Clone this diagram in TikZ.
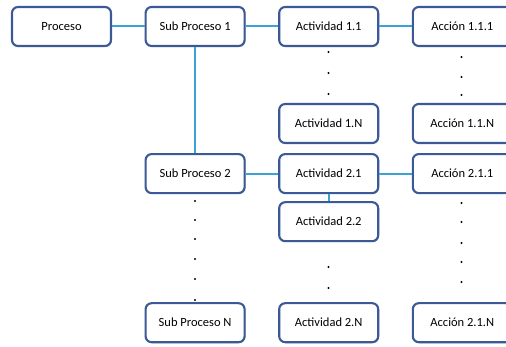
\documentclass[tikz,border=0pt]{standalone}
\usepackage{fontspec}
\setmainfont{Carlito}
\usepackage{tikz}
\usetikzlibrary{positioning,shadows}

\definecolor{boxblue}{HTML}{3A5996}
\definecolor{linkblue}{HTML}{3AA2D4}

\begin{document}
\begin{tikzpicture}[
x=1pt, y=1pt,
font=\fontsize{12.5}{14}\selectfont,
box/.style={
	rectangle,
	rounded corners=6pt,
	draw=boxblue,
	line width=2.1pt,
	fill=white,
	align=center,
	minimum width=99pt,
	minimum height=39pt,
	drop shadow={shadow xshift=0.9pt, shadow yshift=-0.9pt, fill=black!45, opacity=0.45}
},
link/.style={draw=linkblue, line width=2pt},
dot/.style={fill=black}
]
\clip (0,0) rectangle (506,-347);

\node[box] (proceso) at (61.5,-26.5) {Proceso};
\node[box, right=32.5pt of proceso] (sub1) {Sub Proceso 1};
\node[box, right=32.5pt of sub1] (act11) {Actividad 1.1};
\node[box, right=32.5pt of act11] (acc11) {Acción 1.1.1};

\node[box, below=106pt of sub1] (sub2) {Sub Proceso 2};
\node[box, right=32.5pt of sub2] (act21) {Actividad 2.1};
\node[box, right=32.5pt of act21] (acc21) {Acción 2.1.1};

\node[box, above=9pt of act21] (act1n) {Actividad 1.N};
\node[box, above=9pt of acc21] (acc1n) {Acción 1.1.N};

\node[box, below=7pt of act21] (act22) {Actividad 2.2};

\node[box, below=108pt of sub2] (subn) {Sub Proceso N};
\node[box, right=32.5pt of subn] (act2n) {Actividad 2.N};
\node[box, right=32.5pt of act2n] (acc2n) {Acción 2.1.N};

\draw[link] (proceso) -- (sub1);
\draw[link] (sub1) -- (act11);
\draw[link] (act11) -- (acc11);
\draw[link] (sub1) -- (sub2);
\draw[link] (sub2) -- (act21);
\draw[link] (act21) -- (acc21);
\draw[link] (act21) -- (act22);

% puntos suspensivos
\foreach \y in {52,73,94,267,288}
	\fill[dot] (328.5,-\y) circle (1.1pt);
\foreach \y in {57,77,95,203,222,243,262,282}
	\fill[dot] (461.5,-\y) circle (1.1pt);
\foreach \y in {201,220,239,259,279,300}
	\fill[dot] (195,-\y) circle (1.1pt);

\end{tikzpicture}
\end{document}
